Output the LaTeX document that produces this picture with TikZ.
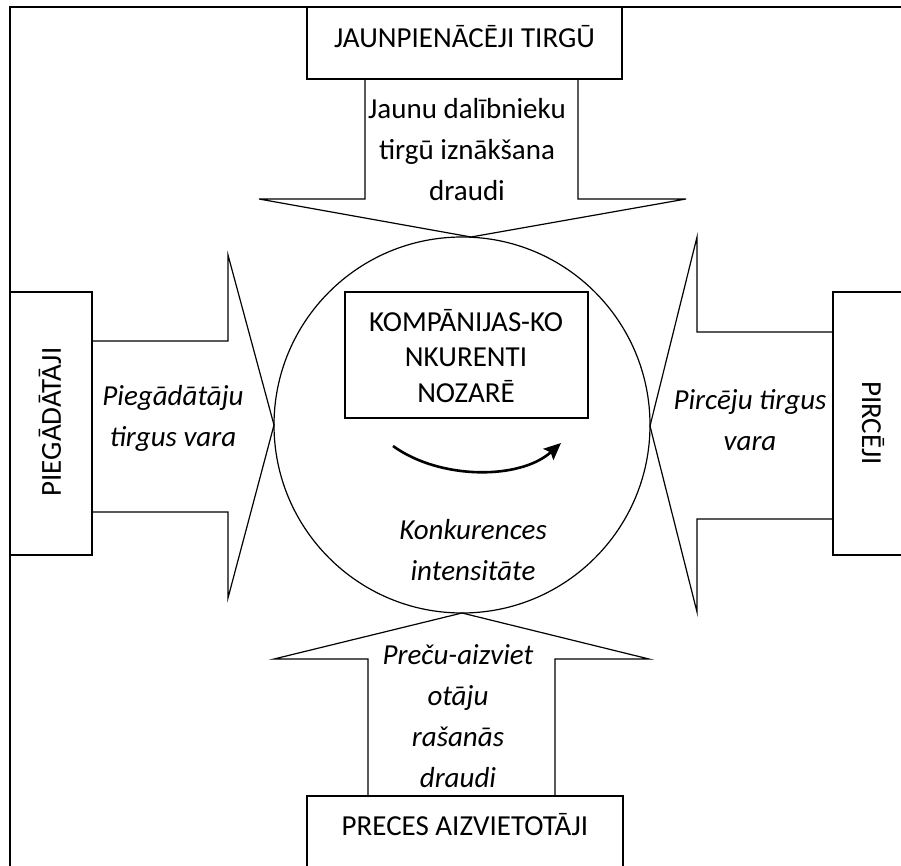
\documentclass[tikz,border=0pt]{standalone}
\usepackage{fontspec}
\setmainfont{Carlito}
\usetikzlibrary{arrows.meta,positioning}
\begin{document}
\begin{tikzpicture}[x=1pt,y=-1pt,line width=1.2pt,
    box/.style={draw,inner sep=0pt},
    txt/.style={align=center,inner sep=0pt,font=\fontsize{29}{41}\selectfont},
    itxt/.style={txt,font=\fontsize{29}{41}\selectfont\itshape}]
  \useasboundingbox (0,0) rectangle (901,866);
  \clip (0,0) rectangle (901,866);
  \draw (10,7) rectangle (960,930);
  \node[box,minimum width=315pt,minimum height=72pt] (entrants) at (464.5,43) {};
  \node[box,minimum width=316pt,minimum height=72pt] (substitutes) at (465,832) {};
  \node[box,minimum width=82pt,minimum height=263pt] (suppliers) at (51,423.5) {};
  \node[box,minimum width=82pt,minimum height=263pt] (buyers) at (874,423.5) {};
  \node[box,minimum width=243pt,minimum height=126pt] (rivals) at (466.5,355) {};
  \node[draw,circle,minimum size=376pt,inner sep=0pt] (rivalry) at (462,425) {};
  \node[txt] (entrantslabel) at (464.5,37) {JAUNPIENĀCĒJI TIRGŪ};
  \node[txt] (substituteslabel) at (465,825) {PRECES AIZVIETOTĀJI};
  \node[txt,rotate=90] (supplierslabel) at (50,422) {PIEGĀDĀTĀJI};
  \node[txt,rotate=-90] (buyerslabel) at (873,423) {PIRCĒJI};
  \node[txt,font=\fontsize{29}{35.4}\selectfont] (rivalslabel) at (466,356)
    {KOMPĀNIJAS-KO\\NKURENTI\\NOZARĒ};
  \begin{scope}
    \draw (365,79) -- (365,199) -- (259,199) -- (471,237)
      -- (686,199) -- (578,199) -- (578,79);
    \draw (368,796) -- (368,659) -- (274,659) -- (462,613)
      -- (649,659) -- (555,659) -- (555,796);
    \draw (92,341) -- (228,341) -- (228,255) -- (274,425)
      -- (228,598) -- (228,512) -- (92,512);
    \draw (833,332) -- (697,332) -- (697,237) -- (650,426)
      -- (697,612) -- (697,519) -- (833,519);
  \end{scope}
  \node[txt] (threatnew) at (467,150) {Jaunu dalībnieku\\tirgū iznākšana\\draudi};
  \node[itxt] (threatsubst) at (458,716) {Preču-aizviet\\otāju\\rašanās\\draudi};
  \node[itxt] (powersupp) at (173,418) {Piegādātāju\\tirgus vara};
  \node[itxt] (powerbuy) at (750,420) {Pircēju tirgus\\vara};
  \node[itxt] (intensity) at (473,550) {Konkurences\\intensitāte};
  \coordinate (arcstart) at (393,446);
  \coordinate (arcend) at (561,443);
  \draw[line width=2.6pt,-{Stealth[length=17pt,width=15pt,inset=3pt]}] (arcstart)
    .. controls (440,480) and (520,480) .. (arcend);
\end{tikzpicture}
\end{document}
